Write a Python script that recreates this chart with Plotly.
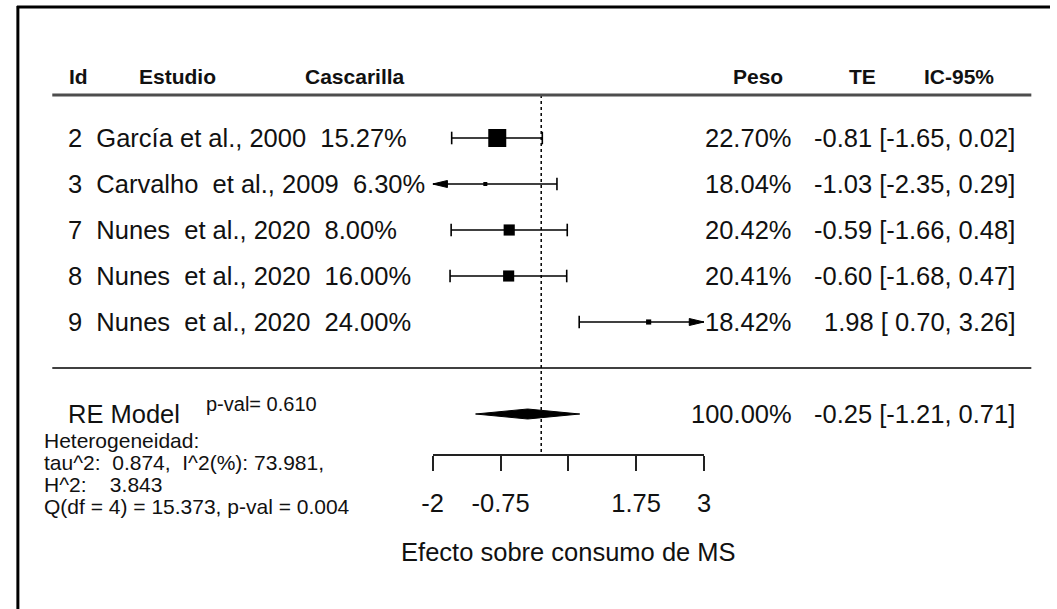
import plotly.graph_objects as go

# ---- study data -------------------------------------------------------------
study_ids = [2, 3, 7, 8, 9]
study_names = ["García et al., 2000", "Carvalho  et al., 2009", "Nunes  et al., 2020",
               "Nunes  et al., 2020", "Nunes  et al., 2020"]
cascarilla = ["15.27%", "6.30%", "8.00%", "16.00%", "24.00%"]
weights = [22.70, 18.04, 20.42, 20.41, 18.42]
effects = [-0.81, -1.03, -0.59, -0.60, 1.98]
ci_low = [-1.65, -2.35, -1.66, -1.68, 0.70]
ci_high = [0.02, 0.29, 0.48, 0.47, 3.26]

# random-effects summary
re_effect = -0.25
re_low = -1.21
re_high = 0.71
re_weight = 100.00
re_pval = 0.610

# heterogeneity statistics
tau2 = 0.874
i2 = 73.981
h2 = 3.843
q_stat = 15.373
q_df = 4
q_pval = 0.004

# axis
axis_limits = [-2, 3]
axis_ticks = [-2, -0.75, 0.5, 1.75, 3]
axis_ticktext = ["-2", "-0.75", "", "1.75", "3"]
headers = ["Id", "Estudio", "Cascarilla", "Peso", "TE", "IC-95%"]

# ---- layout geometry ---------------------------------------------------------
W, H = 1057, 609
ROW_PX = 46.0            # vertical spacing of rows in pixels
ROW0_PX = 368.0          # pixel position of row 0 (separator line)
AXIS_PX = 455.0          # pixel position of the x axis line
HEADER_LINE_PX = 95.0
HEADER_TEXT_PX = 77.0
X_LEFT_PX, X_RIGHT_PX = 429.0, 705.0
UNIT_PX = (X_RIGHT_PX - X_LEFT_PX) / (axis_limits[1] - axis_limits[0])
FONT = "Arial, Liberation Sans, sans-serif"
TXT = "#111111"


def px_x(p):
    return p / W


def px_y(p):
    return 1 - p / H


def row_of(p):
    return (ROW0_PX - p) / ROW_PX


k = len(effects)
rows = list(range(k, 0, -1))
summary_row = -1

fig = go.Figure()

# confidence interval lines (clipped to the axis limits)
line_x, line_y = [], []
cap_x, cap_y = [], []
for r, lo, hi in zip(rows, ci_low, ci_high):
    line_x += [max(lo, axis_limits[0]), min(hi, axis_limits[1]), None]
    line_y += [r, r, None]
    if lo >= axis_limits[0]:
        cap_x.append(lo)
        cap_y.append(r)
    if hi <= axis_limits[1]:
        cap_x.append(hi)
        cap_y.append(r)

fig.add_trace(go.Scatter(x=line_x, y=line_y, mode="lines",
                         line=dict(color="black", width=1.5),
                         hoverinfo="skip", cliponaxis=False))
fig.add_trace(go.Scatter(x=cap_x, y=cap_y, mode="markers",
                         marker=dict(symbol="line-ns", size=9, opacity=1,
                                     line=dict(color="black", width=1.6)),
                         hoverinfo="skip", cliponaxis=False))

# arrows for intervals running past the axis limits
arrow_len = 15 / UNIT_PX
arrow_half = 3.5 / ROW_PX
for r, lo, hi in zip(rows, ci_low, ci_high):
    for bound, lim, sgn in ((lo, axis_limits[0], 1), (hi, axis_limits[1], -1)):
        if (sgn == 1 and bound < lim) or (sgn == -1 and bound > lim):
            fig.add_trace(go.Scatter(
                x=[lim, lim + sgn * arrow_len, lim + sgn * arrow_len, lim],
                y=[r, r + arrow_half, r - arrow_half, r],
                mode="lines", fill="toself", fillcolor="black",
                line=dict(color="black", width=1),
                hoverinfo="skip", cliponaxis=False))

# point estimates, squares scaled by weight
wmin, wmax = min(weights), max(weights)
sizes = [4 + (w - wmin) / (wmax - wmin) * 14 for w in weights]
fig.add_trace(go.Scatter(x=effects, y=rows, mode="markers",
                         marker=dict(symbol="square", size=sizes, color="black",
                                     opacity=1, line=dict(width=0)),
                         hoverinfo="skip", cliponaxis=False))

# summary diamond
dh = 5 / ROW_PX
fig.add_trace(go.Scatter(
    x=[re_low, re_effect, re_high, re_effect, re_low],
    y=[summary_row, summary_row + dh, summary_row, summary_row - dh, summary_row],
    mode="lines", fill="toself", fillcolor="black",
    line=dict(color="black", width=1), hoverinfo="skip", cliponaxis=False))

shapes = []
# reference line at zero
shapes.append(dict(type="line", xref="x", yref="y", x0=0, x1=0,
                   y0=row_of(HEADER_LINE_PX), y1=row_of(AXIS_PX),
                   line=dict(color="black", width=1.5, dash="dot")))
# header rule and separator
shapes.append(dict(type="line", xref="paper", yref="y", x0=px_x(42), x1=px_x(1038),
                   y0=row_of(HEADER_LINE_PX), y1=row_of(HEADER_LINE_PX),
                   line=dict(color="#4d4d4d", width=3)))
shapes.append(dict(type="line", xref="paper", yref="y", x0=px_x(42), x1=px_x(1038),
                   y0=0, y1=0, line=dict(color="black", width=1.5)))
# outer frame (top and left edges)
shapes.append(dict(type="line", xref="paper", yref="paper", x0=px_x(6), x1=1,
                   y0=px_y(7), y1=px_y(7), line=dict(color="black", width=3)))
shapes.append(dict(type="line", xref="paper", yref="paper", x0=px_x(7), x1=px_x(7),
                   y0=0, y1=px_y(6), line=dict(color="black", width=3)))

ann = []


def text(x, y, s, size=25.5, anchor="left", yref="y", bold=False):
    ann.append(dict(x=x, y=y, xref="paper", yref=yref, text=(f"<b>{s}</b>" if bold else s),
                    showarrow=False, xanchor=anchor, yanchor="middle",
                    font=dict(family=FONT, size=size, color=TXT)))


# column headers
header_x = [57, 128, 297, 732, 850, 927]
for hx, h in zip(header_x, headers):
    text(px_x(hx), px_y(HEADER_TEXT_PX), h, size=21, bold=True, yref="paper")

# study rows
for r, sid, name, cas, w, e, lo, hi in zip(rows, study_ids, study_names, cascarilla,
                                           weights, effects, ci_low, ci_high):
    text(px_x(56), r, f"{sid}  {name}  {cas}")
    text(px_x(797), r, f"{w:.2f}%", anchor="right")
    text(px_x(1023), r, f"{e:5.2f} [{lo:5.2f}, {hi:.2f}]", anchor="right")

# summary row
text(px_x(56), summary_row, "RE Model")
text(px_x(196), row_of(404), f"p-val= {re_pval:.3f}", size=20)
text(px_x(797), summary_row, f"{re_weight:.2f}%", anchor="right")
text(px_x(1023), summary_row, f"{re_effect:5.2f} [{re_low:5.2f}, {re_high:.2f}]", anchor="right")

# heterogeneity block
het_lines = [
    "Heterogeneidad:",
    f"tau^2:  {tau2:.3f},  I^2(%): {i2:.3f},",
    f"H^2:    {h2:.3f}",
    f"Q(df = {q_df}) = {q_stat:.3f}, p-val = {q_pval:.3f}",
]
for p, s in zip([440, 462, 484, 506], het_lines):
    text(px_x(32), px_y(p), s, size=21, yref="paper")

fig.update_layout(
    width=W, height=H,
    margin=dict(l=0, r=0, t=0, b=0),
    paper_bgcolor="white", plot_bgcolor="white",
    showlegend=False,
    shapes=shapes, annotations=ann,
    xaxis=dict(domain=[px_x(X_LEFT_PX), px_x(X_RIGHT_PX)], range=axis_limits,
               anchor="free", position=px_y(AXIS_PX),
               tickvals=axis_ticks, ticktext=axis_ticktext,
               ticks="outside", ticklen=15, tickwidth=2, tickcolor="#222",
               ticklabelstandoff=10,
               showline=True, linewidth=2, linecolor="#222",
               showgrid=False, zeroline=False,
               tickfont=dict(family=FONT, size=25.5, color=TXT),
               title=dict(text="Efecto sobre consumo de MS", standoff=27,
                          font=dict(family=FONT, size=25.5, color=TXT))),
    yaxis=dict(domain=[0, 1], range=[row_of(H), row_of(0)], visible=False),
)

fig.write_html("out.html")
